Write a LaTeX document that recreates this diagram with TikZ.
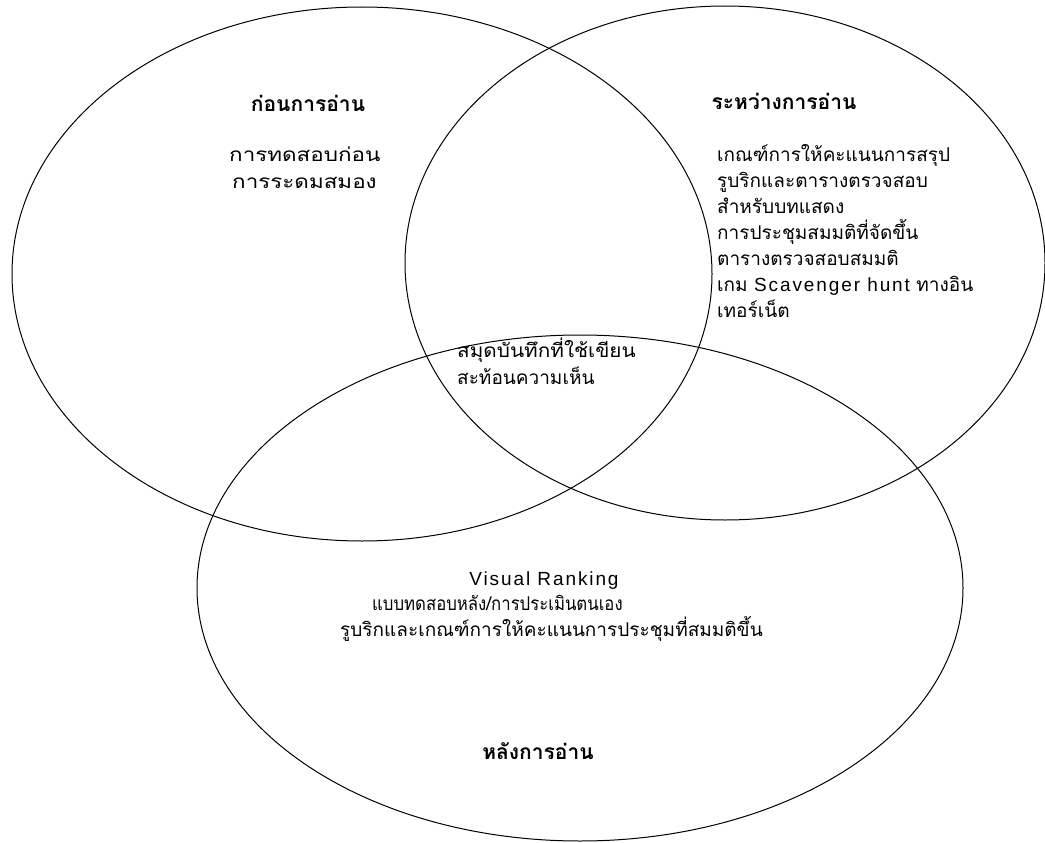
\documentclass[tikz,border=0pt]{standalone}
\usepackage{fontspec}
\usepackage{graphicx}
\setmainfont[Script=Thai]{Loma}
\newfontfamily\latinfont[LetterSpace=10]{Liberation Sans}
\begin{document}
\begin{tikzpicture}[x=1pt,y=-1pt,
  ring/.style={draw=black,line width=1pt},
  head/.style={anchor=base,inner sep=0pt,font=\fontsize{21}{24}\selectfont\bfseries},
  txt/.style={anchor=base west,inner sep=0pt,font=\fontsize{19}{22}\selectfont},
  ctxt/.style={anchor=base,inner sep=0pt,font=\fontsize{19}{22}\selectfont}]
\useasboundingbox (0,0) rectangle (1045,843);
\draw[ring] (362,274) ellipse [x radius=350,y radius=267];
\draw[ring] (725,263) ellipse [x radius=320,y radius=257];
\draw[ring] (580,588) ellipse [x radius=383,y radius=253];
% headings
\node[head] (h1) at (308,112) {ก่อนการอ่าน};
\node[head] (h2) at (784,110) {ระหว่างการอ่าน};
\node[head] (h3) at (538,759) {หลังการอ่าน};
% before
\node[txt] (b1) at (229,161) {\scalebox{1.18}[1]{การทดสอบก่อน}};
\node[txt] (b2) at (232,188) {\scalebox{1.18}[1]{การระดมสมอง}};
% during
\node[txt] (d1) at (717,161) {เกณฑ์การให้คะแนนการสรุป};
\node[txt] (d2) at (717,187) {รูบริกและตารางตรวจสอบ};
\node[txt] (d3) at (717,213) {สำหรับบทแสดง};
\node[txt] (d4) at (717,239) {การประชุมสมมติที่จัดขึ้น};
\node[txt] (d5) at (717,265) {ตารางตรวจสอบสมมติ};
\node[txt] (d6) at (717,291) {เกม {\latinfont Scavenger hunt} ทางอิน};
\node[txt] (d7) at (717,317) {เทอร์เน็ต};
% center
\node[txt] (c1) at (457,357) {\scalebox{1.09}[1]{สมุดบันทึกที่ใช้เขียน}};
\node[txt] (c2) at (457,384) {สะท้อนความเห็น};
% after
\node[ctxt] (a1) at (544,585) {\latinfont Visual Ranking};
\node[txt] (a2) at (372,610) {\scalebox{0.88}[1]{แบบทดสอบหลัง/การประเมินตนเอง}};
\node[txt] (a3) at (340,636) {รูบริกและเกณฑ์การให้คะแนนการประชุมที่สมมติขึ้น};
\end{tikzpicture}
\end{document}
